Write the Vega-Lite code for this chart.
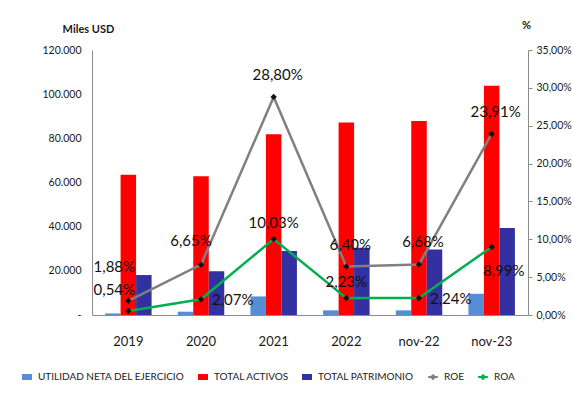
{
  "$schema": "https://vega.github.io/schema/vega-lite/v6.json",
  "width": 436,
  "height": 265,
  "autosize": {"type": "none"},
  "padding": {"left": 92, "top": 50, "right": 44, "bottom": 90},
  "background": "white",
  "config": {
    "locale": {"number": {"decimal": ",", "thousands": ".", "grouping": [3], "currency": ["", ""]}},
    "view": {"stroke": null},
    "font": "Lato",
    "text": {"font": "Lato"},
    "axis": {"grid": false, "domainColor": "#8c8c8c", "labelColor": "#1a1a1a", "labelFont": "Lato", "titleFont": "Lato", "labelOverlap": false},
    "legend": {"labelFont": "Lato"}
  },
  "datasets": {
    "barras": [
      {"periodo": "2019", "serie": "UTILIDAD NETA DEL EJERCICIO", "valor": 700},
      {"periodo": "2019", "serie": "TOTAL ACTIVOS", "valor": 63500},
      {"periodo": "2019", "serie": "TOTAL PATRIMONIO", "valor": 18100},
      {"periodo": "2020", "serie": "UTILIDAD NETA DEL EJERCICIO", "valor": 1500},
      {"periodo": "2020", "serie": "TOTAL ACTIVOS", "valor": 62800},
      {"periodo": "2020", "serie": "TOTAL PATRIMONIO", "valor": 19800},
      {"periodo": "2021", "serie": "UTILIDAD NETA DEL EJERCICIO", "valor": 8400},
      {"periodo": "2021", "serie": "TOTAL ACTIVOS", "valor": 81800},
      {"periodo": "2021", "serie": "TOTAL PATRIMONIO", "valor": 29000},
      {"periodo": "2022", "serie": "UTILIDAD NETA DEL EJERCICIO", "valor": 2100},
      {"periodo": "2022", "serie": "TOTAL ACTIVOS", "valor": 87200},
      {"periodo": "2022", "serie": "TOTAL PATRIMONIO", "valor": 30500},
      {"periodo": "nov-22", "serie": "UTILIDAD NETA DEL EJERCICIO", "valor": 2100},
      {"periodo": "nov-22", "serie": "TOTAL ACTIVOS", "valor": 87800},
      {"periodo": "nov-22", "serie": "TOTAL PATRIMONIO", "valor": 29700},
      {"periodo": "nov-23", "serie": "UTILIDAD NETA DEL EJERCICIO", "valor": 9600},
      {"periodo": "nov-23", "serie": "TOTAL ACTIVOS", "valor": 103800},
      {"periodo": "nov-23", "serie": "TOTAL PATRIMONIO", "valor": 39400}
    ],
    "ratios": [
      {"periodo": "2019", "serie": "ROE", "valor": 0.0188},
      {"periodo": "2020", "serie": "ROE", "valor": 0.0665},
      {"periodo": "2021", "serie": "ROE", "valor": 0.2880},
      {"periodo": "2022", "serie": "ROE", "valor": 0.0640},
      {"periodo": "nov-22", "serie": "ROE", "valor": 0.0668},
      {"periodo": "nov-23", "serie": "ROE", "valor": 0.2391},
      {"periodo": "2019", "serie": "ROA", "valor": 0.0054},
      {"periodo": "2020", "serie": "ROA", "valor": 0.0207},
      {"periodo": "2021", "serie": "ROA", "valor": 0.1003},
      {"periodo": "2022", "serie": "ROA", "valor": 0.0223},
      {"periodo": "nov-22", "serie": "ROA", "valor": 0.0224},
      {"periodo": "nov-23", "serie": "ROA", "valor": 0.0899}
    ]
  },
  "layer": [
    {
      "data": {"name": "barras"},
      "mark": {"type": "bar"},
      "encoding": {
        "x": {
          "field": "periodo", "type": "nominal", "sort": ["2019", "2020", "2021", "2022", "nov-22", "nov-23"],
          "scale": {"paddingInner": 0.36, "paddingOuter": 0.18},
          "axis": {"title": null, "ticks": false, "labelAngle": 0, "labelPadding": 20, "labelFontSize": 13, "labelColor": "#1a1a1a"}
        },
        "xOffset": {"field": "serie", "type": "nominal", "sort": ["UTILIDAD NETA DEL EJERCICIO", "TOTAL ACTIVOS", "TOTAL PATRIMONIO"], "scale": {"paddingInner": 0, "paddingOuter": 0}},
        "y": {
          "field": "valor", "type": "quantitative",
          "scale": {"domain": [0, 120000], "nice": false, "zero": true},
          "axis": {"orient": "left", "title": "Miles USD", "titleAngle": 0, "titleAlign": "center", "titleBaseline": "middle", "titleX": -4, "titleY": -21, "titleFontSize": 11, "titleFontWeight": "bold", "titleColor": "#1a1a1a", "ticks": false, "labelPadding": 11, "labelFontSize": 10.5, "values": [0, 20000, 40000, 60000, 80000, 100000, 120000], "format": ",.0f", "labelExpr": "datum.value === 0 ? '-' : datum.label"}
        },
        "color": {
          "field": "serie", "type": "nominal",
          "scale": {"domain": ["UTILIDAD NETA DEL EJERCICIO", "TOTAL ACTIVOS", "TOTAL PATRIMONIO", "ROE", "ROA"], "range": ["#558ed5", "#ff0000", "#3331a1", "#808080", "#00b050"]},
          "legend": {
            "title": null, "orient": "none", "direction": "horizontal", "legendX": -70, "legendY": 322,
            "labelFontSize": 10, "labelColor": "#1a1a1a", "symbolSize": 64, "columnPadding": 10, "labelOffset": 6, "labelLimit": 300,
            "encode": {"symbols": {"update": {
              "shape": {"signal": "datum.value === 'ROE' || datum.value === 'ROA' ? 'M-1.2,0H1.2M0,-0.45L0.45,0L0,0.45L-0.45,0Z' : 'M-1,-0.5H1V0.5H-1Z'"},
              "fill": [{"test": "datum.value === 'ROE' || datum.value === 'ROA'", "value": "#111111"}, {"scale": "color", "field": "value"}],
              "stroke": [{"test": "datum.value === 'ROE' || datum.value === 'ROA'", "scale": "color", "field": "value"}, {"value": "transparent"}],
              "strokeWidth": {"value": 2},
              "opacity": {"value": 1}
            }}}
          }
        }
      }
    },
    {
      "data": {"name": "ratios"},
      "encoding": {
        "x": {"field": "periodo", "type": "nominal", "sort": ["2019", "2020", "2021", "2022", "nov-22", "nov-23"]},
        "y": {"field": "valor", "type": "quantitative", "scale": {"domain": [0, 0.35], "nice": false},
          "axis": {"orient": "right", "title": "%", "titleAngle": 0, "titleAlign": "center", "titleBaseline": "middle", "titleX": -2, "titleY": -25, "titleFontSize": 11, "titleFontWeight": "bold", "titleColor": "#1a1a1a", "values": [0, 0.05, 0.1, 0.15, 0.2, 0.25, 0.3, 0.35], "format": ".2%", "ticks": true, "tickSize": 4, "tickColor": "#8c8c8c", "labelPadding": 4, "labelFontSize": 10.5, "labelOverlap": false}}
      },
      "layer": [
        {
          "mark": {"type": "line", "strokeWidth": 2.5},
          "encoding": {
            "color": {"field": "serie", "type": "nominal", "scale": {"domain": ["UTILIDAD NETA DEL EJERCICIO", "TOTAL ACTIVOS", "TOTAL PATRIMONIO", "ROE", "ROA"], "range": ["#558ed5", "#ff0000", "#3331a1", "#808080", "#00b050"]}}
          }
        },
        {
          "mark": {"type": "point", "shape": "diamond", "filled": true, "size": 40, "color": "#111111", "opacity": 1}
        },
        {
          "transform": [{"filter": "datum.serie === 'ROE' && indexof(['2021','2022','nov-22','nov-23'], datum.periodo) >= 0"}],
          "mark": {"type": "text", "fontSize": 15, "color": "#111111", "dx": 4, "dy": -22},
          "encoding": {"text": {"field": "valor", "type": "quantitative", "format": ".2%"}}
        },
        {
          "transform": [{"filter": "datum.serie === 'ROE' && datum.periodo === '2020'"}],
          "mark": {"type": "text", "fontSize": 15, "color": "#111111", "dx": -10, "dy": -24},
          "encoding": {"text": {"field": "valor", "type": "quantitative", "format": ".2%"}}
        },
        {
          "transform": [{"filter": "datum.serie === 'ROE' && datum.periodo === '2019'"}],
          "mark": {"type": "text", "fontSize": 15, "color": "#111111", "dx": -14, "dy": -34},
          "encoding": {"text": {"field": "valor", "type": "quantitative", "format": ".2%"}}
        },
        {
          "transform": [{"filter": "datum.serie === 'ROA' && datum.periodo === '2019'"}],
          "mark": {"type": "text", "fontSize": 15, "color": "#111111", "dx": -14, "dy": -21},
          "encoding": {"text": {"field": "valor", "type": "quantitative", "format": ".2%"}}
        },
        {
          "transform": [{"filter": "datum.serie === 'ROA' && indexof(['2021','2022'], datum.periodo) >= 0"}],
          "mark": {"type": "text", "fontSize": 15, "color": "#111111", "dy": -16},
          "encoding": {"text": {"field": "valor", "type": "quantitative", "format": ".2%"}}
        },
        {
          "transform": [{"filter": "datum.serie === 'ROA' && indexof(['2020','nov-22'], datum.periodo) >= 0"}],
          "mark": {"type": "text", "fontSize": 15, "color": "#111111", "align": "left", "dx": 11, "dy": 1},
          "encoding": {"text": {"field": "valor", "type": "quantitative", "format": ".2%"}}
        },
        {
          "transform": [{"filter": "datum.serie === 'ROA' && datum.periodo === 'nov-23'"}],
          "mark": {"type": "text", "fontSize": 15, "color": "#111111", "dx": 12, "dy": 24},
          "encoding": {"text": {"field": "valor", "type": "quantitative", "format": ".2%"}}
        }
      ]
    }
  ],
  "resolve": {"scale": {"y": "independent"}}
}
